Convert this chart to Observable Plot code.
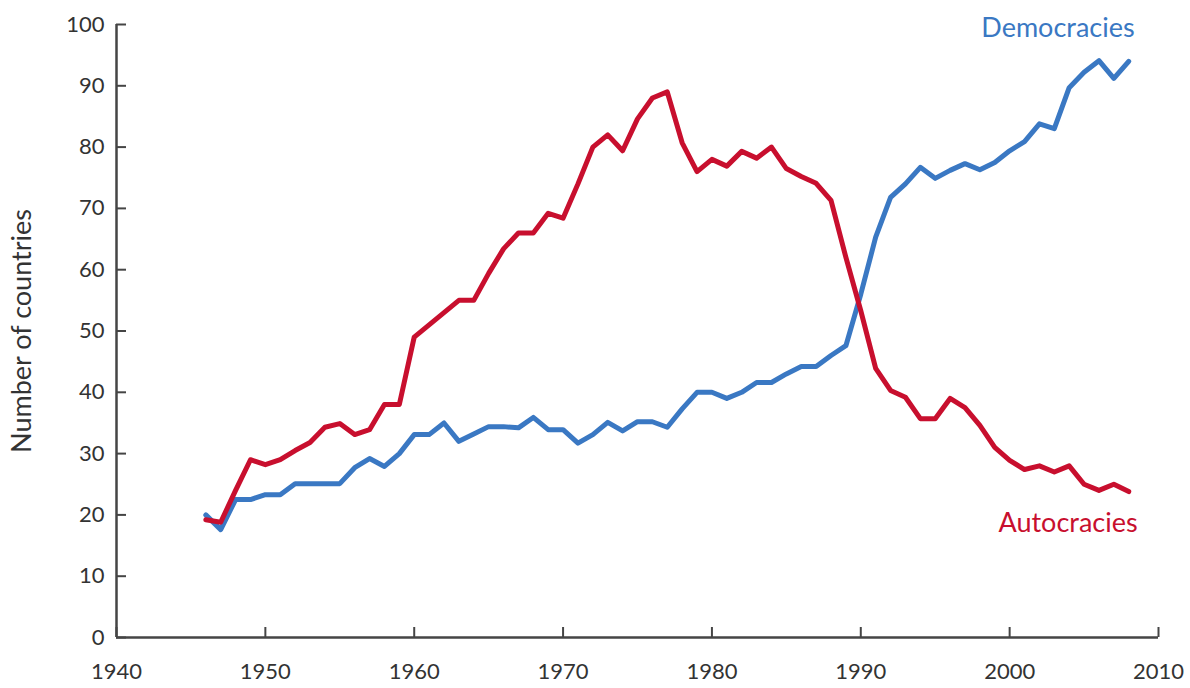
<!DOCTYPE html>
<html>
<head>
<meta charset="utf-8">
<script src="https://cdn.jsdelivr.net/npm/d3@7"></script>
<script src="https://cdn.jsdelivr.net/npm/@observablehq/plot@0.6"></script>
<style>
  html, body { margin: 0; padding: 0; background: #fff; }
  #chart svg { font-family: Lato, "Open Sans", sans-serif; font-variant-numeric: oldstyle-nums; }
</style>
</head>
<body>
<div id="chart"></div>
<script>
const years = d3.range(1946, 2009);
const democracies = [20, 17.6, 22.5, 22.5, 23.3, 23.3, 25.1, 25.1, 25.1, 25.1,
  27.7, 29.2, 27.9, 30, 33.1, 33.1, 35, 32, 33.2, 34.4,
  34.4, 34.2, 35.9, 33.9, 33.9, 31.7, 33.1, 35.1, 33.7, 35.2,
  35.2, 34.3, 37.3, 40, 40, 39, 40, 41.6, 41.6, 43,
  44.2, 44.2, 46, 47.6, 56, 65.3, 71.8, 74, 76.7, 74.9,
  76.2, 77.3, 76.3, 77.5, 79.4, 80.9, 83.8, 83, 89.7, 92.2,
  94.1, 91.2, 94];
const autocracies = [19.2, 18.8, 24, 29, 28.2, 29, 30.5, 31.8, 34.3, 34.9,
  33.1, 33.9, 38, 38, 49, 51, 53, 55, 55, 59.4,
  63.4, 66, 66, 69.2, 68.4, 74, 80, 82, 79.4, 84.6,
  88, 89, 80.7, 76, 78, 76.9, 79.3, 78.2, 80, 76.5,
  75.2, 74.1, 71.3, 62, 53.3, 43.9, 40.3, 39.2, 35.7, 35.7,
  39, 37.5, 34.6, 31, 28.9, 27.4, 28, 27, 28, 25,
  24, 25, 23.8];
const xTicks = [1940, 1950, 1960, 1970, 1980, 1990, 2000, 2010];
const yTicks = [0, 10, 20, 30, 40, 50, 60, 70, 80, 90, 100];
const seriesNames = ["Democracies", "Autocracies"];
const seriesColors = ["#3a78c3", "#c80f2e"];
const labelYears = [2008.4, 2008.6];
const labelValues = [99.3, 18.6];

const rows = [];
years.forEach((yr, i) => {
  rows.push({year: yr, value: democracies[i], series: seriesNames[0]});
  rows.push({year: yr, value: autocracies[i], series: seriesNames[1]});
});
const labels = seriesNames.map((s, i) => ({series: s, year: labelYears[i], value: labelValues[i]}));

const axisColor = "#454545";
const chart = Plot.plot({
  width: 1190,
  height: 688,
  marginLeft: 116,
  marginRight: 32,
  marginTop: 24,
  marginBottom: 51,
  x: {domain: [1940, 2010]},
  y: {domain: [0, 100]},
  color: {domain: seriesNames, range: seriesColors},
  style: {fontSize: "22px", color: "#333", background: "#fff"},
  marks: [
    Plot.axisX({ticks: xTicks, tickFormat: d => String(d), tickSize: -10, tickPadding: 36, stroke: axisColor, strokeWidth: 2, fill: "#333", fontSize: 22, label: null}),
    Plot.axisY({ticks: yTicks, tickSize: -10, tickPadding: 22, stroke: axisColor, strokeWidth: 2, fill: "#333", fontSize: 22,
      label: null}),
    Plot.text(["Number of countries"], {frameAnchor: "left", text: d => d, rotate: -90, dx: -94, fontSize: 27, fill: "#333", textAnchor: "middle"}),
    Plot.ruleY([0], {stroke: axisColor, strokeWidth: 2.5}),
    Plot.ruleX([1940], {stroke: axisColor, strokeWidth: 2.5}),
    Plot.line(rows, {x: "year", y: "value", z: "series", stroke: "series", strokeWidth: 5, strokeLinejoin: "round"}),
    Plot.text(labels, {x: "year", y: "value", text: "series", fill: "series", textAnchor: "end", fontSize: 27})
  ]
});
document.getElementById("chart").appendChild(chart);
</script>
</body>
</html>
